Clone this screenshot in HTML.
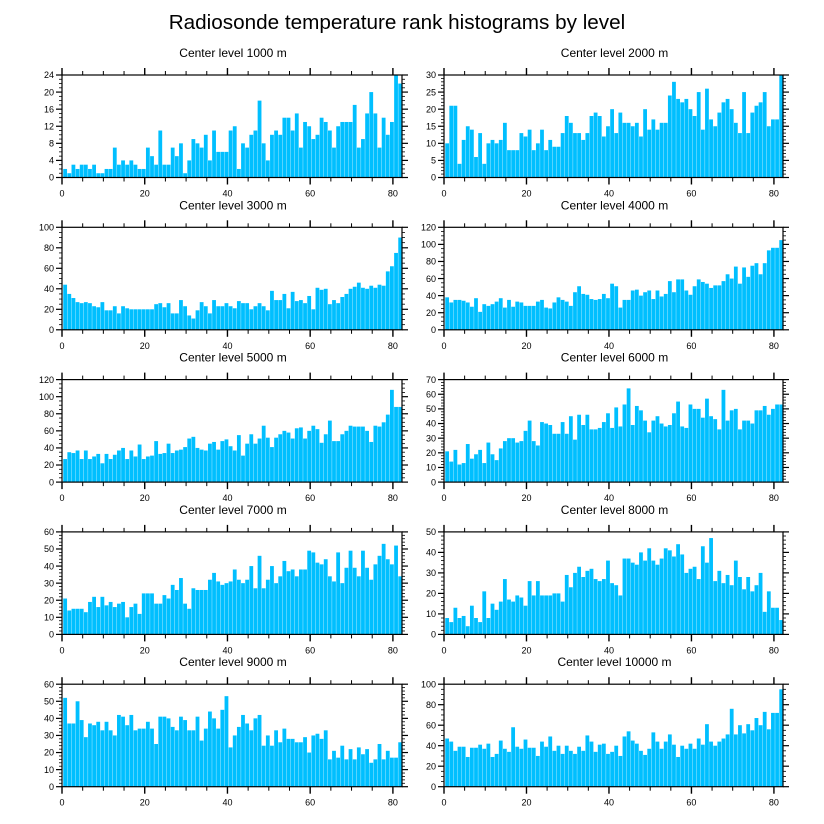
<!DOCTYPE html>
<html><head><meta charset="utf-8">
<style>
html,body{margin:0;padding:0;background:#fff;}
svg{display:block;font-family:"Liberation Sans",sans-serif;}
</style></head>
<body>
<svg id="chart" width="824" height="824" viewBox="0 0 824 824" xmlns="http://www.w3.org/2000/svg">
<text x="397" y="29" font-size="20.7" text-anchor="middle">Radiosonde temperature rank histograms by level</text>
</svg>
<script>
const levels = [1000,2000,3000,4000,5000,6000,7000,8000,9000,10000];
const yMaxes = [24,30,100,120,120,70,60,50,60,100];
const ySteps = [4,5,20,20,20,10,10,10,10,20];
const xTicks = [0,20,40,60,80];
const d1000 = [2,1,3,2,3,3,2,3,1,1,2,2,7,3,4,3,4,3,2,2,7,5,3,11,3,3,7,5,8,1,4,9,8,7,10,4,11,6,6,6,11,12,2,8,7,10,11,18,8,4,10,11,10,14,14,11,15,7,13,12,9,10,14,13,11,7,12,13,13,13,17,7,9,15,20,15,7,14,10,13,24,22];
const d2000 = [10,21,21,4,11,15,14,6,13,4,10,11,10,11,16,8,8,8,13,12,14,8,10,14,8,11,9,9,13,18,16,13,13,11,13,18,19,18,12,15,20,13,19,16,16,15,16,12,20,14,17,14,16,16,24,28,23,22,23,20,18,25,14,26,17,15,19,22,23,20,16,13,25,13,19,21,22,25,15,17,17,30];
const d3000 = [44,35,31,27,26,27,26,23,22,27,19,19,23,16,23,21,20,20,20,20,20,20,25,26,22,26,16,16,29,23,14,11,19,27,23,16,29,23,23,26,23,21,28,26,26,20,23,26,23,19,38,29,29,35,21,37,28,29,26,33,20,41,39,40,25,29,26,32,35,40,42,46,41,40,43,41,44,43,57,62,75,90];
const d4000 = [38,32,35,35,34,32,27,37,21,30,28,30,33,37,26,35,27,33,32,28,28,28,33,35,26,25,32,38,35,33,28,44,51,42,41,36,35,36,42,37,54,51,26,35,35,46,47,40,44,46,36,46,39,42,57,44,59,59,46,41,51,59,56,54,49,52,52,57,65,60,74,54,73,62,75,78,65,78,93,96,96,105];
const d5000 = [27,35,34,37,27,37,27,30,33,22,33,27,32,37,40,27,37,30,44,27,30,31,48,33,34,45,34,37,38,41,51,53,40,38,37,45,47,38,48,50,42,37,55,31,45,56,45,51,66,52,41,52,56,60,58,51,63,64,51,60,66,62,46,56,72,48,48,56,60,66,65,65,65,60,47,66,65,70,79,108,88,88];
const d6000 = [21,14,22,12,13,26,16,19,22,13,27,19,15,23,28,30,30,27,28,35,42,28,25,41,40,39,33,33,41,33,45,29,46,39,46,36,36,37,41,47,37,51,38,53,64,39,52,49,42,34,42,45,40,38,39,47,55,38,37,53,50,50,44,57,45,43,36,63,42,49,50,36,42,42,40,49,49,52,46,50,53,53];
const d7000 = [21,14,15,15,15,13,19,22,16,22,17,19,16,18,19,10,16,18,12,24,24,24,18,18,23,21,29,26,33,18,15,27,26,26,26,32,36,31,29,30,31,38,32,30,32,40,27,46,27,32,40,30,34,43,37,38,34,38,38,49,48,42,41,44,34,31,48,30,39,49,39,34,49,39,32,41,46,53,44,41,52,34];
const d8000 = [8,6,13,8,9,4,14,8,6,21,8,15,12,16,27,17,16,19,18,14,26,19,26,19,19,19,20,20,16,29,23,30,33,28,31,32,27,26,27,36,25,24,19,37,37,35,34,40,36,42,36,34,37,42,41,38,44,39,30,32,33,27,43,35,47,26,31,25,29,24,36,28,22,28,21,24,30,11,21,13,13,7];
const d9000 = [52,37,37,50,39,29,37,36,38,33,38,33,30,42,41,36,42,33,34,34,38,34,25,41,41,40,35,33,41,39,33,33,41,27,34,44,40,34,45,53,23,30,35,42,37,33,40,42,24,30,24,33,26,34,28,28,26,26,29,20,30,31,28,33,16,21,17,24,16,22,16,23,19,22,14,16,25,16,21,17,17,26];
const d10000 = [47,44,35,39,39,29,38,38,41,37,42,29,32,45,37,34,58,39,37,46,38,38,30,44,39,49,35,40,32,40,35,32,39,35,50,44,34,41,42,32,34,40,30,49,54,45,42,35,31,37,53,44,37,44,51,41,29,40,37,42,37,47,41,61,44,40,44,47,51,76,51,60,52,61,55,67,60,73,56,72,72,95];
const series = [d1000,d2000,d3000,d4000,d5000,d6000,d7000,d8000,d9000,d10000];

const NS = "http://www.w3.org/2000/svg";
const svg = document.getElementById('chart');
function mk(tag, attrs, parent){
  const e = document.createElementNS(NS, tag);
  for (const k in attrs) e.setAttribute(k, attrs[k]);
  parent.appendChild(e);
  return e;
}
const XMAX = 82.2;
for (let p = 0; p < 10; p++) {
  const col = p % 2, row = Math.floor(p / 2);
  const L = col ? 444 : 62, R = col ? 783 : 402;
  const T = 75 + row * 152.3, B = T + 102.5;
  const sx = v => L + (v / XMAX) * (R - L);
  const sy = v => B - (v / yMaxes[p]) * (B - T);
  const g = mk('g', {}, svg);
  
  
  const t = mk('text', {x: (L + R) / 2 + 1, y: T - 18, 'font-size': 12, 'text-anchor': 'middle'}, g);
  
  
  t.textContent = 'Center level ' + levels[p] + ' m';
  const data = series[p];
  for (let k = 0; k < data.length; k++) {
    const x0 = sx(k + 0.3), x1 = sx(k + 1.22);
    const r = mk('rect', {x: x0, y: sy(data[k]), width: x1 - x0, height: B - sy(data[k]), fill: '#00bfff'}, g);
    
    
  }
  const fr = mk('rect', {x: L, y: T, width: R - L, height: B - T, fill: 'none', stroke: '#000', 'stroke-width': 1.2}, g);
  
  
  for (let v = 0; v <= 80; v += 5) {
    const major = v % 20 === 0, len = major ? 7 : 4, x = sx(v);
    mk('line', {x1: x, x2: x, y1: T, y2: T - len, stroke: '#000', 'stroke-width': major ? 1.4 : 1}, g);
    mk('line', {x1: x, x2: x, y1: B, y2: B + len, stroke: '#000', 'stroke-width': major ? 1.4 : 1}, g);
  }
  for (const v of xTicks) {
    const tl = mk('text', {x: sx(v), y: B + 19, 'font-size': 9, 'text-anchor': 'middle'}, g);
    
    
    tl.textContent = v;
  }
  const st = ySteps[p], minor = (st === 5 || st === 10) ? st / 5 : st / 4;
  for (let v = 0; v <= yMaxes[p] + 1e-9; v += minor) {
    const major = Math.abs(v / st - Math.round(v / st)) < 1e-6, len = major ? 6 : 3, y = sy(v);
    mk('line', {x1: L, x2: L - len, y1: y, y2: y, stroke: '#000', 'stroke-width': major ? 1.2 : 0.8}, g);
    mk('line', {x1: R, x2: R + len, y1: y, y2: y, stroke: '#000', 'stroke-width': major ? 1.2 : 0.8}, g);
  }
  for (let v = 0; v <= yMaxes[p] + 1e-9; v += st) {
    const yl = mk('text', {x: L - 8, y: sy(v) + 3.2, 'font-size': 9, 'text-anchor': 'end'}, g);
    
    
    yl.textContent = v;
  }
}
</script>
</body></html>
